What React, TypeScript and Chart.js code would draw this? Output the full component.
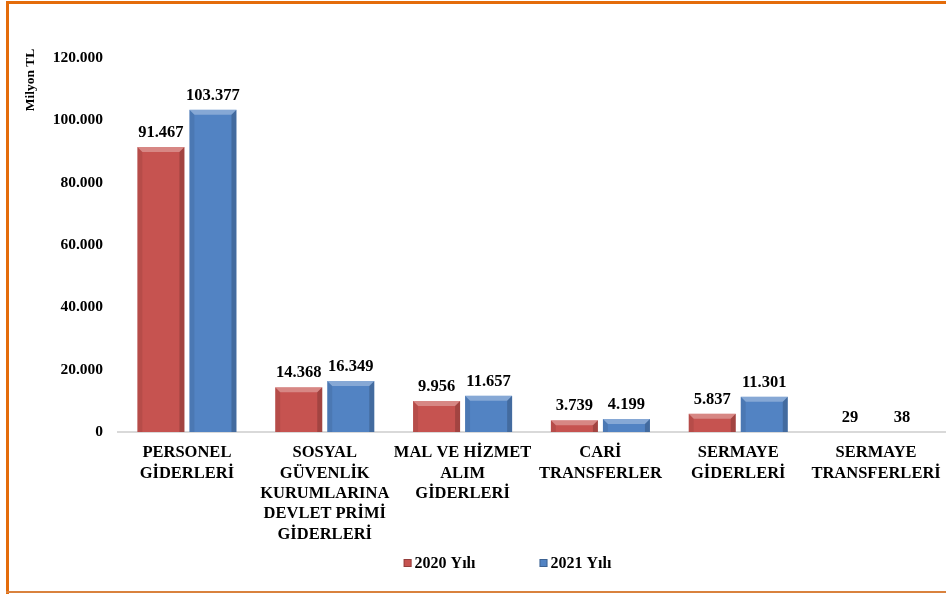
import React, { useEffect, useRef } from "react";
import { Chart, registerables } from "chart.js";

Chart.register(...registerables);

const categories: string[][] = [
  ["PERSONEL", "GİDERLERİ"],
  ["SOSYAL", "GÜVENLİK", "KURUMLARINA", "DEVLET PRİMİ", "GİDERLERİ"],
  ["MAL VE HİZMET", "ALIM", "GİDERLERİ"],
  ["CARİ", "TRANSFERLER"],
  ["SERMAYE", "GİDERLERİ"],
  ["SERMAYE", "TRANSFERLERİ"],
];
const seriesNames = ["2020 Yılı", "2021 Yılı"];
const values2020 = [91467, 14368, 9956, 3739, 5837, 29];
const values2021 = [103377, 16349, 11657, 4199, 11301, 38];
const yMax = 120000;
const yStep = 20000;
const yTitle = "Milyon TL";

const FONT = "'Liberation Serif', 'Times New Roman', serif";
const RED = "#C65350";
const BLUE = "#5283C3";

function fmt(v: number): string {
  return String(Math.round(v)).replace(/\B(?=(\d{3})+(?!\d))/g, ".");
}

const bevelPlugin = {
  id: "bevel",
  afterDatasetsDraw(chart: any) {
    const ctx = chart.ctx;
    chart.data.datasets.forEach((ds: any, di: number) => {
      const meta = chart.getDatasetMeta(di);
      meta.data.forEach((el: any) => {
        const w = el.width;
        const left = el.x - w / 2;
        const right = el.x + w / 2;
        const top = el.y;
        const base = el.base;
        const h = base - top;
        if (h <= 0.5) return;
        const b = Math.min(5, h / 2);
        ctx.save();
        ctx.beginPath();
        ctx.moveTo(left, top);
        ctx.lineTo(right, top);
        ctx.lineTo(right - b, top + b);
        ctx.lineTo(left + b, top + b);
        ctx.closePath();
        ctx.fillStyle = "rgba(255,255,255,0.3)";
        ctx.fill();
        ctx.beginPath();
        ctx.moveTo(left, top);
        ctx.lineTo(left + b, top + b);
        ctx.lineTo(left + b, base);
        ctx.lineTo(left, base);
        ctx.closePath();
        ctx.fillStyle = "rgba(0,0,0,0.08)";
        ctx.fill();
        ctx.beginPath();
        ctx.moveTo(right, top);
        ctx.lineTo(right - b, top + b);
        ctx.lineTo(right - b, base);
        ctx.lineTo(right, base);
        ctx.closePath();
        ctx.fillStyle = "rgba(0,0,0,0.18)";
        ctx.fill();
        ctx.restore();
      });
    });
  },
};

const labelPlugin = {
  id: "valueLabels",
  afterDatasetsDraw(chart: any) {
    const ctx = chart.ctx;
    ctx.save();
    ctx.font = `bold 16.5px ${FONT}`;
    ctx.fillStyle = "#000";
    ctx.textAlign = "center";
    ctx.textBaseline = "alphabetic";
    chart.data.datasets.forEach((ds: any, di: number) => {
      const meta = chart.getDatasetMeta(di);
      meta.data.forEach((el: any, i: number) => {
        ctx.fillText(fmt(ds.data[i]), el.x, el.y - 10);
      });
    });
    ctx.restore();
  },
};

const titlePlugin = {
  id: "yTitle",
  afterDraw(chart: any) {
    const ctx = chart.ctx;
    ctx.save();
    ctx.translate(31, 80);
    ctx.rotate(-Math.PI / 2);
    ctx.font = `bold 13.5px ${FONT}`;
    ctx.fillStyle = "#000";
    ctx.textAlign = "center";
    ctx.textBaseline = "middle";
    ctx.fillText(yTitle, 0, 0);
    ctx.restore();
  },
};

const legendPlugin = {
  id: "customLegend",
  afterDraw(chart: any) {
    const ctx = chart.ctx;
    const area = chart.chartArea;
    const cy = area.bottom + 131;
    const box = 8;
    const gap = 3;
    const spacing = 64;
    ctx.save();
    ctx.font = `bold 16px ${FONT}`;
    ctx.textBaseline = "middle";
    ctx.textAlign = "left";
    const items = chart.data.datasets.map((ds: any) => ({
      text: ds.label,
      color: ds.backgroundColor,
      w: box + gap + ctx.measureText(ds.label).width,
    }));
    const total = items.reduce((s: number, it: any) => s + it.w, 0) + spacing * (items.length - 1);
    let x = (area.left + area.right) / 2 - 24 - total / 2;
    items.forEach((it: any) => {
      ctx.fillStyle = it.color;
      ctx.fillRect(x, cy - box / 2, box, box);
      ctx.strokeStyle = "rgba(0,0,0,0.25)";
      ctx.lineWidth = 1;
      ctx.strokeRect(x + 0.5, cy - box / 2 + 0.5, box - 1, box - 1);
      ctx.fillStyle = "#000";
      ctx.fillText(it.text, x + box + gap, cy + 1);
      x += it.w + spacing;
    });
    ctx.restore();
  },
};

export default function App() {
  const ref = useRef<HTMLCanvasElement | null>(null);
  useEffect(() => {
    if (!ref.current) return;
    const chart = new Chart(ref.current, {
      type: "bar",
      data: {
        labels: categories as any,
        datasets: [
          {
            label: seriesNames[0],
            data: values2020,
            backgroundColor: RED,
            categoryPercentage: 0.755,
            barPercentage: 0.904,
          },
          {
            label: seriesNames[1],
            data: values2021,
            backgroundColor: BLUE,
            categoryPercentage: 0.755,
            barPercentage: 0.904,
          },
        ],
      },
      options: {
        animation: false,
        responsive: false,
        maintainAspectRatio: false,
        layout: { padding: { left: 0, right: 1, top: 58, bottom: 48 } },
        plugins: {
          tooltip: { enabled: false },
          legend: { display: false },
        },
        scales: {
          x: {
            grid: { display: false, drawTicks: false },
            border: { display: true, color: "#D9D9D9", width: 2 },
            ticks: {
              color: "#000",
              font: { family: FONT, size: 16.5, weight: "bold", lineHeight: 1.23 },
              padding: 11,
              maxRotation: 0,
              autoSkip: false,
            },
            afterFit: (s: any) => {
              s.height = 114;
              s.paddingLeft = 0;
              s.paddingRight = 0;
            },
          },
          y: {
            min: 0,
            max: yMax,
            grid: { display: false, drawTicks: false },
            border: { display: false },
            ticks: {
              stepSize: yStep,
              color: "#000",
              font: { family: FONT, size: 15.5, weight: "bold" },
              padding: 15,
              callback: (v: any) => fmt(Number(v)),
            },
            afterFit: (s: any) => {
              s.width = 118;
            },
          },
        },
      },
      plugins: [bevelPlugin, labelPlugin, titlePlugin, legendPlugin],
    });
    return () => chart.destroy();
  }, []);

  return (
    <div style={{ position: "absolute", left: 0, top: 0, width: 946, height: 594, background: "#fff", overflow: "hidden" }}>
      <canvas ref={ref} width={946} height={594} style={{ position: "absolute", left: 0, top: 0 }} />
      <div style={{ position: "absolute", left: 6, top: 1, width: 3, height: 593, background: "#E46C0A" }} />
      <div style={{ position: "absolute", left: 6, top: 1, width: 940, height: 3, background: "#E46C0A" }} />
      <div style={{ position: "absolute", left: 6, top: 591, width: 940, height: 2, background: "#D9823E" }} />
    </div>
  );
}
